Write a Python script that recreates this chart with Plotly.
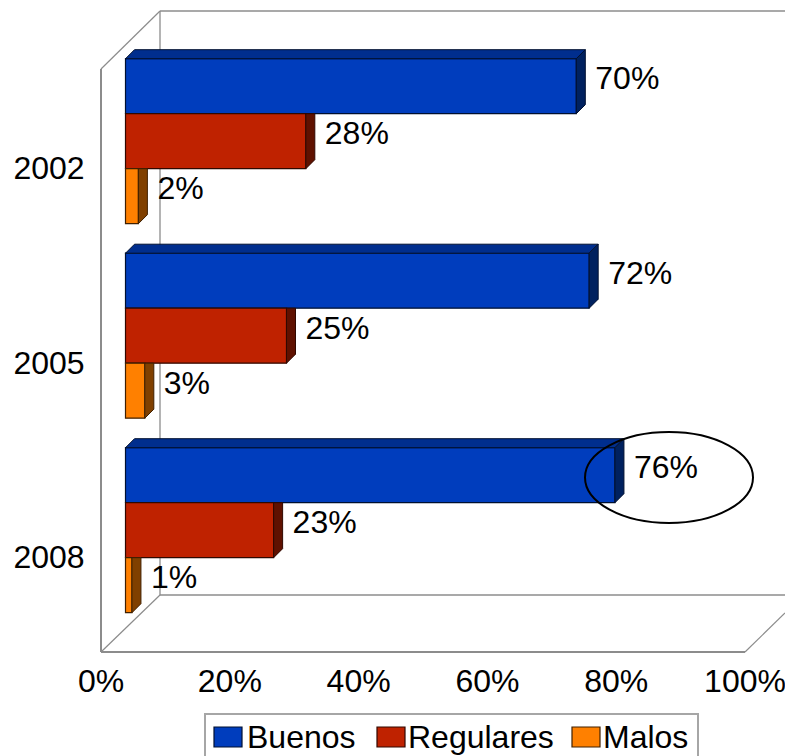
import plotly.graph_objects as go

years = ["2002", "2005", "2008"]
series_names = ["Buenos", "Regulares", "Malos"]
buenos = [70, 72, 76]
regulares = [28, 25, 23]
malos = [2, 3, 1]
x_ticks = [0, 20, 40, 60, 80, 100]
tick_labels = ["0%", "20%", "40%", "60%", "80%", "100%"]

all_values = [buenos, regulares, malos]
front_colors = ["#003DBD", "#BF2200", "#FF8000"]
top_colors = ["#002E8E", "#8F1A00", "#BF6000"]
side_colors = ["#00215F", "#5F1100", "#804000"]
edge_colors = ["#001030", "#300800", "#402000"]

W, H = 785, 756
FONT = dict(family="Liberation Sans, Arial, sans-serif", size=32, color="black")
PX_PER_UNIT = 6.44       # pixels per percentage point
PX_PER_GROUP = 194.5     # pixels between categories
BAR_T = 55.0 / PX_PER_GROUP
DX = 9.0 / PX_PER_UNIT
DY = 9.0 / PX_PER_GROUP
PLOT_BOTTOM = 652
LEFT_FRONT = 101
LEFT_BARS = 125.5


def xp(p):
    return p / W


def yp(p):
    return 1 - p / H


fig = go.Figure()

# invisible trace: carries the category axis
fig.add_trace(go.Scatter(x=[0, 0, 0], y=years, mode="markers", marker=dict(opacity=0),
                         showlegend=False, hoverinfo="skip", xaxis="x", yaxis="y"))

# 3D faces and fronts on the bar plane (x2 / y2)
for s, (vals, name) in enumerate(zip(all_values, series_names)):
    ys = [i + (s - 1) * BAR_T for i in range(len(years))]
    for v, yc in zip(vals, ys):
        yt, yb = yc - BAR_T / 2, yc + BAR_T / 2
        if s == 0:
            fig.add_trace(go.Scatter(
                x=[0, DX, v + DX, v, 0], y=[yt, yt - DY, yt - DY, yt, yt],
                mode="lines", fill="toself", fillcolor=top_colors[s],
                line=dict(color=edge_colors[s], width=1),
                showlegend=False, hoverinfo="skip", xaxis="x2", yaxis="y2"))
            px = [v, v + DX, v + DX, v, v]
            py = [yt, yt - DY, yb - DY, yb, yt]
        else:
            px = [v, v + DX, v + DX, v, v]
            py = [yt, yt, yb - DY, yb, yt]
        fig.add_trace(go.Scatter(
            x=px, y=py, mode="lines", fill="toself", fillcolor=side_colors[s],
            line=dict(color=edge_colors[s], width=1),
            showlegend=False, hoverinfo="skip", xaxis="x2", yaxis="y2"))
    fig.add_trace(go.Bar(
        x=vals, y=ys, orientation="h", width=BAR_T, name=name,
        marker=dict(color=front_colors[s], line=dict(color=edge_colors[s], width=1.2)),
        showlegend=False, hoverinfo="skip", xaxis="x2", yaxis="y2"))
    fig.add_trace(go.Scatter(
        x=[v + 19 / PX_PER_UNIT for v in vals], y=[yc - 5 / PX_PER_GROUP for yc in ys],
        mode="text", text=[f"{v}%" for v in vals], textposition="middle right",
        textfont=FONT, showlegend=False, hoverinfo="skip", xaxis="x2", yaxis="y2"))

GRAY = "#8C8C8C"
frame = [
    (101, 69, 101, 652, 2), (101, 652, 745, 652, 2.2),
    (160, 11, 160, 595, 1.3), (160, 11, 800, 11, 1.3), (160, 595, 800, 595, 1.5),
    (101, 69, 160, 11, 1.2), (101, 652, 160, 595, 1.2), (745, 652, 785, 613, 1.2),
]
shapes = [dict(type="line", xref="paper", yref="paper", x0=xp(a), y0=yp(b), x1=xp(c), y1=yp(d),
               line=dict(color=GRAY, width=w), layer="below") for a, b, c, d, w in frame]

# highlight ellipse
shapes.append(dict(type="circle", xref="paper", yref="paper", x0=xp(585), x1=xp(753),
                   y0=yp(432), y1=yp(523), line=dict(color="black", width=2), layer="above"))

# legend box
shapes.append(dict(type="rect", xref="paper", yref="paper", x0=xp(205), x1=xp(698),
                   y0=yp(714), y1=yp(762), line=dict(color="#A6A6A6", width=2),
                   fillcolor="white", layer="above"))
legend_swatch_x = [214, 377, 572]
legend_text_x = [245, 406, 601]
annotations = []
for sx, tx, c, e, name in zip(legend_swatch_x, legend_text_x, front_colors, edge_colors, series_names):
    shapes.append(dict(type="rect", xref="paper", yref="paper", x0=xp(sx), x1=xp(sx + 28),
                       y0=yp(727), y1=yp(747), fillcolor=c, line=dict(color=e, width=1.2), layer="above"))
    annotations.append(dict(xref="paper", yref="paper", x=xp(tx), y=yp(737), text=name,
                            showarrow=False, xanchor="left", yanchor="middle", font=FONT))

front_y_center = 168
bars_y_center = 141.2

fig.update_layout(
    width=W, height=H, margin=dict(l=0, r=0, t=0, b=0), autosize=False,
    paper_bgcolor="white", plot_bgcolor="rgba(0,0,0,0)", showlegend=False,
    hovermode=False, barmode="overlay", font=FONT,
    shapes=shapes, annotations=annotations,
    xaxis=dict(domain=[LEFT_FRONT / W, 1], range=[0, (W - LEFT_FRONT) / PX_PER_UNIT],
               tickvals=x_ticks, ticktext=tick_labels, showgrid=False, zeroline=False,
               showline=False, ticks="outside", ticklen=1, tickcolor="rgba(0,0,0,0)",
               tickfont=FONT, anchor="y", fixedrange=True, automargin=False,
               ticklabeloverflow="allow"),
    yaxis=dict(domain=[(H - PLOT_BOTTOM) / H, 1], type="category",
               categoryorder="array", categoryarray=years,
               range=[(PLOT_BOTTOM - front_y_center) / PX_PER_GROUP, -front_y_center / PX_PER_GROUP],
               showgrid=False, zeroline=False, showline=False, ticks="outside", ticklen=9,
               tickcolor="rgba(0,0,0,0)", tickfont=FONT, anchor="x", fixedrange=True, automargin=False,
               ticklabeloverflow="allow"),
    xaxis2=dict(range=[(LEFT_FRONT - LEFT_BARS) / PX_PER_UNIT, (W - LEFT_BARS) / PX_PER_UNIT],
                visible=False, overlaying="x", anchor="y2", fixedrange=True, automargin=False),
    yaxis2=dict(range=[(PLOT_BOTTOM - bars_y_center) / PX_PER_GROUP, -bars_y_center / PX_PER_GROUP],
                visible=False, overlaying="y", anchor="x2", fixedrange=True, automargin=False),
)

fig.write_html("out.html", config=dict(displayModeBar=False),
               post_script="document.body.style.margin='0';document.body.style.overflow='hidden';")
